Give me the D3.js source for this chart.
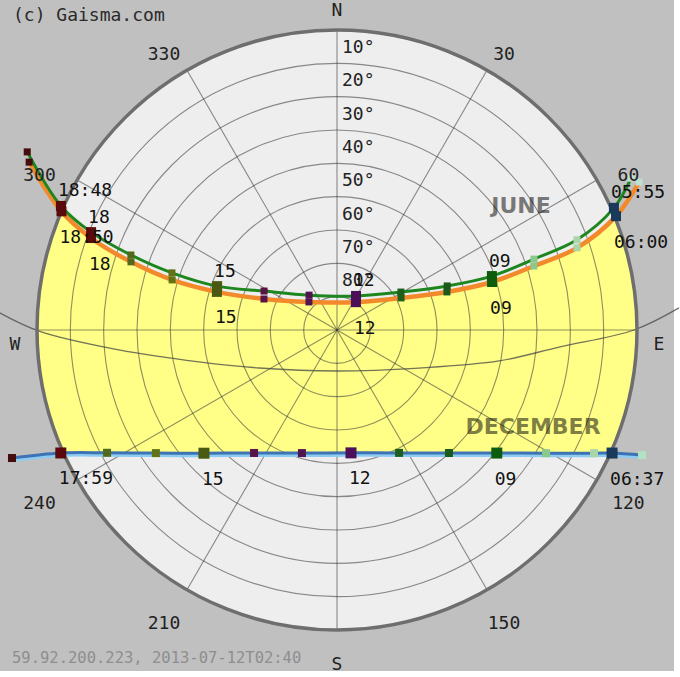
<!DOCTYPE html>
<html>
<head>
<meta charset="utf-8">
<script src="https://cdn.jsdelivr.net/npm/d3@7"></script>
<style>
  body { margin: 0; background: #fff; }
  text { font-family: "DejaVu Sans Mono", monospace; }
</style>
</head>
<body>
<script>
// Sun positions: [label, azimuth, altitude]
const juneSun = [
  ['19', 299.9, -17.2], ['18:48', 294.2, -0.8], ['18', 291.7, 10.6], ['17', 290.0, 24.2],
  ['16', 289.1, 37.6], ['15', 290.1, 51.7], ['14', 298.1, 65.2], ['13', 321.3, 76.6],
  ['12', 29.2, 78.3], ['11', 59.3, 67.7], ['10', 68.2, 54.4], ['09', 70.8, 40.8],
  ['08', 70.2, 27.2], ['07', 69.4, 13.1], ['05:55', 66.2, -0.8], ['05', 62.7, -9.3]
];
const todaySun = [
  ['19', 298.6, -15.2], ['18:50', 293.3, 0.0], ['18', 290.5, 11.2], ['17', 288.3, 24.9],
  ['16', 286.9, 38.3], ['15', 287.6, 52.2], ['14', 293.0, 66.2], ['13', 315.0, 78.1],
  ['12', 34.2, 79.9], ['11', 63.4, 68.5], ['10', 70.9, 55.1], ['09', 72.8, 41.3],
  ['08', 72.0, 27.9], ['07', 71.1, 13.9], ['06:00', 67.8, -0.4], ['05', 63.9, -10.9]
];
const decSun = [
  ['19', 248.5, -14.8], ['17:59', 246.0, -0.7], ['17', 241.9, 11.8], ['16', 235.8, 24.3],
  ['15', 227.2, 35.6], ['14', 214.0, 45.5], ['13', 195.9, 51.6], ['12', 173.5, 52.9],
  ['11', 153.2, 48.7], ['10', 137.7, 40.1], ['09', 127.6, 29.5], ['08', 120.5, 17.2],
  ['07', 115.6, 4.5], ['06:37', 114.1, -0.4], ['06', 112.3, -8.9]
];
const equinoxSun = [
  [273, -11.6], [269.8, 0.6], [264.8, 24.3], [257, 47.5], [244, 64], [180, 77.7],
  [114.9, 62.9], [100.8, 40.5], [94.4, 23.2], [90, 0.9], [86.3, -12.8]
];
const juneLabels = ['18:48', '18', '15', '12', '09', '05:55'];
const todayLabels = ['18:50', '18', '15', '12', '09', '06:00'];
const decLabels = ['17:59', '15', '12', '09', '06:37'];
const altRings = [10, 20, 30, 40, 50, 60, 70, 80];
const azLines = d3.range(0, 360, 30);
const azLabels = [30, 60, 120, 150, 210, 240, 300, 330];
const cardinals = [['N', 0], ['E', 90], ['S', 180], ['W', 270]];

const w = 680, h = 677;
const cx = 337, cy = 330, R = 300;

const hourColors = {
  rise: '#1a3a5c', set: '#5a0a0a',
  '05': '#bfe0cf', '06': '#b4e0c4', '07': '#a8d6a8', '08': '#8cc88c', '09': '#0c5c0c',
  '10': '#1a5a1a', '11': '#1c601c', '12': '#4c1058', '13': '#501450', '14': '#581446',
  '15': '#4a5a10', '16': '#627216', '17': '#52681a', '18': '#5a0a0a', '19': '#440c0c'
};
const colorOf = (lab) => lab.includes(':') ? (+lab.slice(0, 2) < 12 ? hourColors.rise : hourColors.set) : hourColors[lab];

const svg = d3.select('body').append('svg').attr('width', w).attr('height', h);
svg.append('rect').attr('width', w).attr('height', h).attr('fill', '#fff');
svg.append('rect').attr('width', 674).attr('height', 671).attr('fill', '#c0c0c0');

const g = svg.append('g').attr('transform', `translate(${cx},${cy})`);

// altitude -> radius
const rScale = d3.scaleLinear().domain([90, 0]).range([0, R]);
const rad = (az) => az * Math.PI / 180;
const proj = (az, alt) => d3.pointRadial(rad(az), rScale(alt));

const lineR = d3.lineRadial()
  .angle(d => rad(d[1]))
  .radius(d => rScale(d[2]))
  .curve(d3.curveCatmullRom);

g.append('clipPath').attr('id', 'dome')
  .append('circle').attr('r', R);

g.append('circle').attr('r', R).attr('fill', '#eeeeee');

// yellow band between the solstice paths
const topD = lineR(todaySun);
const botD = lineR(decSun.slice().reverse());
g.append('path')
  .attr('clip-path', 'url(#dome)')
  .attr('d', topD + botD.replace(/^M/, 'L') + 'Z')
  .attr('fill', '#ffff88');

// grid
g.selectAll('.ring').data(altRings).enter().append('circle')
  .attr('r', d => rScale(d))
  .attr('fill', 'none').attr('stroke', '#333').attr('stroke-opacity', 0.55).attr('stroke-width', 1.1);

g.selectAll('.spoke').data(azLines).enter().append('line')
  .attr('x1', 0).attr('y1', 0)
  .attr('x2', d => proj(d, 0)[0]).attr('y2', d => proj(d, 0)[1])
  .attr('stroke', '#333').attr('stroke-opacity', 0.55).attr('stroke-width', 1.1);

// equinox path
g.append('path')
  .attr('d', d3.lineRadial().angle(d => rad(d[0])).radius(d => rScale(d[1])).curve(d3.curveCatmullRom)(equinoxSun))
  .attr('fill', 'none').attr('stroke', '#444').attr('stroke-opacity', 0.75).attr('stroke-width', 1.3);

// horizon
g.append('circle').attr('r', R)
  .attr('fill', 'none').attr('stroke', '#6e6e6e').attr('stroke-width', 3.5);

// altitude labels
g.selectAll('.altlab').data(altRings).enter().append('text')
  .attr('x', 5).attr('y', d => -rScale(d) - 17)
  .attr('dominant-baseline', 'central')
  .attr('font-size', 18).attr('fill', '#222')
  .text(d => d + '°');

// sun paths
g.append('path').attr('d', lineR(decSun)).attr('transform', 'translate(0,2)')
  .attr('fill', 'none').attr('stroke', '#8cccf2').attr('stroke-width', 4);
g.append('path').attr('d', lineR(decSun))
  .attr('fill', 'none').attr('stroke', '#3d72b4').attr('stroke-width', 3);
g.append('path').attr('d', lineR(todaySun))
  .attr('fill', 'none').attr('stroke', '#f28a2c').attr('stroke-width', 4.5);
g.append('path').attr('d', lineR(juneSun))
  .attr('fill', 'none').attr('stroke', '#1e861e').attr('stroke-width', 3);

// hour markers
const drawMarkers = (data, labels, big, small) => {
  g.selectAll(null).data(data).enter().append('rect')
    .each(function(d) {
      const [x, y] = proj(d[1], d[2]);
      const s = labels.includes(d[0]) ? big : small;
      d3.select(this).attr('x', x - s / 2).attr('y', y - s / 2).attr('width', s).attr('height', s);
    })
    .attr('fill', d => colorOf(d[0]));
};
drawMarkers(todaySun, todayLabels, 10, 7);
drawMarkers(juneSun, juneLabels, 10, 7);
drawMarkers(decSun, decLabels, 11, 8);

// hour labels
const drawLabels = (data, labels, dx, dy) => {
  g.selectAll(null).data(data.filter(d => labels.includes(d[0]))).enter().append('text')
    .attr('x', d => proj(d[1], d[2])[0] + dx)
    .attr('y', d => proj(d[1], d[2])[1] + dy)
    .attr('dominant-baseline', 'central')
    .attr('font-size', 18).attr('fill', '#111')
    .text(d => d[0]);
};
drawLabels(juneSun, juneLabels, -3, -16);
drawLabels(todaySun, todayLabels, -2, 25);
drawLabels(decSun, decLabels, -2, 25);

// season names
const bold = (txt, az, alt) => {
  const [x, y] = proj(az, alt);
  g.append('text').attr('x', x).attr('y', y)
    .attr('text-anchor', 'middle').attr('dominant-baseline', 'central')
    .style('font-family', '"DejaVu Sans", sans-serif').attr('font-weight', 'bold')
    .attr('font-size', 22).attr('fill', '#000').attr('fill-opacity', 0.5)
    .text(txt);
};
bold('JUNE', 56, 23.4);
bold('DECEMBER', 116.3, 24.4);

// azimuth labels
svg.selectAll('.azlab').data(azLabels).enter().append('text')
  .attr('x', d => 334 + 340 * Math.sin(rad(d)))
  .attr('y', d => 338 - 328 * Math.cos(rad(d)))
  .attr('text-anchor', 'middle').attr('dominant-baseline', 'central')
  .attr('font-size', 18).attr('fill', '#222')
  .text(d => d);

svg.selectAll('.card').data(cardinals).enter().append('text')
  .attr('x', d => 337 + 322 * Math.sin(rad(d[1])))
  .attr('y', d => 336 - 327 * Math.cos(rad(d[1])) + 7 * Math.abs(Math.sin(rad(d[1]))))
  .attr('text-anchor', 'middle').attr('dominant-baseline', 'central')
  .attr('font-size', 18).attr('fill', '#222')
  .text(d => d[0]);

svg.append('text').attr('x', 13).attr('y', 14)
  .attr('dominant-baseline', 'central').attr('font-size', 18).attr('fill', '#2a2a2a')
  .text('(c) Gaisma.com');

svg.append('text').attr('x', 12).attr('y', 658)
  .attr('dominant-baseline', 'central').attr('font-size', 15.5).attr('fill', '#8e8e8e')
  .text('59.92.200.223, 2013-07-12T02:40');
</script>
</body>
</html>
